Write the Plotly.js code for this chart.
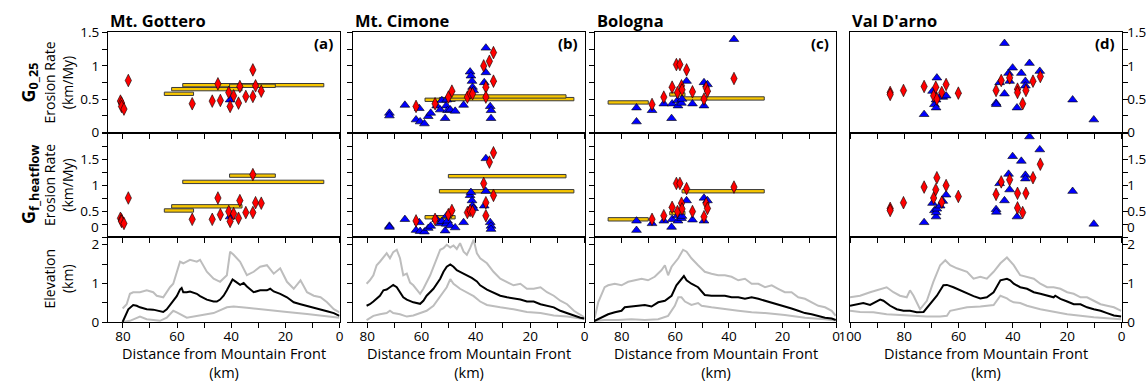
<!DOCTYPE html>
<html><head><meta charset="utf-8">
<script src="https://cdn.plot.ly/plotly-3.0.1.min.js"></script>
<style>html,body{margin:0;padding:0;background:#fff}#chart{width:1146px;height:383px}</style>
</head><body><div id="chart"></div>
<script>
// ---------------- DATA ----------------
const panelTitles = ['Mt. Gottero', 'Mt. Cimone', 'Bologna', "Val D'arno"];
const panelLetters = ['(a)', '(b)', '(c)', '(d)'];

// (a) Mt. Gottero
const gotteroDiaKm   = [80.9,80.5,80.5,79.6,78.0,54.4,47.0,44.9,44.0,40.9,40.4,39.1,37.3,36.8,34.6,32.0,32.0,31.0,28.9];
const gotteroDiaG025 = [0.47,0.44,0.39,0.35,0.78,0.43,0.47,0.73,0.48,0.60,0.39,0.55,0.44,0.69,0.54,0.54,0.94,0.70,0.62];
const gotteroDiaGhf  = [0.36,0.33,0.30,0.26,0.75,0.34,0.34,0.75,0.43,0.49,0.30,0.45,0.36,0.70,0.47,0.47,1.20,0.66,0.65];
const gotteroTriKm   = [40.4];
const gotteroTriG025 = [0.49];
const gotteroTriGhf  = [0.39];
const gotteroBarFrom = [64.7,62.0,57.9,40.6];
const gotteroBarTo   = [53.9,36.0,5.8,23.7];
const gotteroBarG025 = [0.58,0.65,0.71,0.70];
const gotteroBarGhf  = [0.51,0.59,1.06,1.18];
const gotteroMeanKm  = [80.1,79.3,78.0,76.2,74.9,73.7,71.2,68.8,66.3,65.1,63.8,62.6,61.4,60.1,58.9,58.3,57.7,56.4,55.2,54.0,52.7,51.5,49.0,46.5,45.3,44.1,42.8,41.6,40.4,39.5,38.5,36.7,35.4,34.2,31.7,29.3,26.8,25.6,24.3,21.9,19.4,16.9,14.4,12.0,9.5,7.0,4.6,2.1,0];
const gotteroMean    = [0.0,0.11,0.33,0.44,0.42,0.38,0.33,0.32,0.29,0.26,0.33,0.44,0.55,0.67,0.84,0.88,0.77,0.77,0.79,0.77,0.73,0.67,0.58,0.53,0.53,0.58,0.68,0.82,0.96,1.10,1.05,0.96,1.01,0.92,0.77,0.82,0.82,0.86,0.79,0.73,0.64,0.51,0.46,0.42,0.38,0.33,0.28,0.23,0.16];
const gotteroMaxKm   = [80.1,78.6,77.4,76.2,73.7,71.2,68.8,67.5,65.1,62.6,61.4,58.9,57.7,55.2,52.7,51.5,49.0,46.5,44.1,41.6,40.4,39.1,36.7,34.2,31.7,29.3,26.8,24.3,21.9,19.4,16.9,14.4,12.0,9.5,7.0,4.6,2.1,0];
const gotteroMax     = [0.35,0.46,0.73,0.77,0.77,0.82,0.77,0.68,0.64,0.90,0.99,1.56,1.52,1.61,1.56,1.61,1.30,1.12,1.04,1.21,1.82,1.74,1.56,1.21,1.30,1.43,1.47,1.25,1.39,1.04,0.86,1.08,0.77,0.68,0.64,0.51,0.33,0.25];
const gotteroMinKm   = [80.1,77.4,73.7,71.2,66.3,63.8,61.4,60.1,56.4,51.5,46.5,41.6,39.1,34.2,26.8,19.4,12.0,4.6,0];
const gotteroMin     = [0.0,0.03,0.14,0.07,0.03,0.11,0.29,0.25,0.11,0.16,0.23,0.38,0.40,0.37,0.31,0.26,0.21,0.16,0.11];

// (b) Mt. Cimone
const cimoneTriKm   = [71.8,71.8,66.1,62.0,60.8,60.5,58.9,57.5,56.6,54.4,53.1,52.5,51.3,50.9,50.7,50.4,49.4,47.6,44.5,42.1,41.8,41.4,41.2,40.8,36.9,36.3,36.3,34.7,34.4,34.4];
const cimoneTriG025 = [0.29,0.25,0.41,0.19,0.36,0.16,0.13,0.24,0.29,0.40,0.34,0.48,0.21,0.40,0.49,0.33,0.34,0.32,0.41,0.91,0.85,0.77,0.68,0.63,0.75,1.27,0.90,0.39,0.33,0.21];
const cimoneTriGhf  = [0.21,0.19,0.34,0.13,0.28,0.11,0.10,0.17,0.21,0.34,0.26,0.30,0.12,0.25,0.41,0.31,0.22,0.18,0.28,0.80,0.86,0.70,0.60,0.55,0.60,1.51,0.88,0.28,0.21,0.15];
const cimoneDiaKm   = [62.0,55.0,50.1,48.8,43.1,42.1,41.2,37.1,36.3,36.3,35.0,33.5,33.5];
const cimoneDiaG025 = [0.39,0.43,0.53,0.62,0.53,0.59,0.58,1.00,0.68,0.53,1.07,1.20,0.77];
const cimoneDiaGhf  = [0.31,0.34,0.43,0.51,0.47,0.51,0.49,1.03,0.66,0.41,1.44,1.62,0.80];
const cimoneBarFrom = [58.7,53.4,50.1];
const cimoneBarTo   = [47.6,3.9,6.8];
const cimoneBarG025 = [0.49,0.50,0.54];
const cimoneBarGhf  = [0.38,0.88,1.17];
const cimoneMeanKm  = [80.2,79.0,77.7,76.5,75.3,74.0,72.8,71.6,70.4,69.1,67.9,66.7,65.4,63.0,60.5,59.3,58.1,55.6,53.1,51.9,50.7,49.4,48.2,47.0,45.8,43.3,41.5,39.6,38.4,35.9,33.5,31.0,28.5,26.1,23.6,21.2,18.7,16.2,13.8,11.3,8.9,6.4,3.9,1.5,0];
const cimoneMean    = [0.42,0.46,0.53,0.60,0.68,0.82,0.84,0.90,0.96,0.90,0.77,0.64,0.58,0.51,0.47,0.55,0.68,0.86,1.12,1.30,1.43,1.49,1.43,1.34,1.30,1.21,1.14,1.05,0.95,0.84,0.77,0.68,0.64,0.61,0.58,0.53,0.53,0.46,0.42,0.38,0.29,0.23,0.16,0.11,0.09];
const cimoneMaxKm   = [80.2,79.0,77.7,76.5,75.3,74.0,72.8,71.6,70.4,69.1,67.9,66.7,65.4,64.2,63.0,60.5,59.3,56.8,54.4,53.1,51.9,50.7,49.4,48.2,47.0,45.8,44.5,43.3,42.1,40.8,39.6,38.4,35.9,33.5,31.0,28.5,26.1,23.6,21.2,18.7,16.2,13.8,11.3,8.9,6.4,3.9,1.5,0];
const cimoneMax     = [0.99,1.08,1.21,1.47,1.56,1.69,1.78,1.65,1.81,1.87,1.65,1.21,1.25,1.02,0.95,0.73,0.86,1.21,1.65,1.87,1.91,2.00,1.93,1.98,1.89,2.04,1.82,1.74,1.91,2.13,1.78,1.65,1.52,1.30,1.12,1.04,0.95,0.99,0.86,0.86,0.90,0.77,0.68,0.55,0.46,0.29,0.18,0.12];
const cimoneMinKm   = [80.2,77.7,75.3,72.8,71.6,70.4,67.9,65.4,63.0,60.5,58.1,55.6,53.1,50.7,49.4,48.2,45.8,43.3,40.8,38.4,35.9,31.0,26.1,21.2,16.2,11.3,6.4,1.5,0];
const cimoneMin     = [0.05,0.16,0.20,0.23,0.29,0.23,0.20,0.14,0.17,0.23,0.29,0.42,0.68,0.90,1.11,0.99,0.86,0.77,0.67,0.53,0.44,0.38,0.33,0.26,0.23,0.17,0.14,0.09,0.07];

// (c) Bologna
const bolognaTriKm   = [74.5,74.5,68.7,64.3,61.4,61.2,59.2,59.0,57.7,57.5,55.8,53.6,49.3,49.3,48.0,38.1];
const bolognaTriG025 = [0.37,0.16,0.33,0.43,0.21,0.43,0.48,0.40,0.44,0.50,0.77,0.43,0.75,0.40,0.72,1.40];
const bolognaTriGhf  = [0.31,0.13,0.26,0.31,0.19,0.34,0.41,0.31,0.36,0.40,0.70,0.33,0.75,0.31,0.70,2.40];
const bolognaDiaKm   = [68.7,64.3,61.2,59.6,58.3,59.2,57.7,57.5,55.8,53.6,49.3,48.5,48.0,38.1];
const bolognaDiaG025 = [0.42,0.53,0.68,1.02,1.02,0.60,0.70,0.64,0.94,0.61,0.50,0.67,0.62,0.81];
const bolognaDiaGhf  = [0.34,0.41,0.57,1.03,1.03,0.49,0.65,0.54,0.93,0.49,0.39,0.64,0.55,0.96];
const bolognaBarFrom = [85.1,62.1,57.5];
const bolognaBarTo   = [70.1,56.4,26.8];
const bolognaBarG025 = [0.45,0.57,0.51];
const bolognaBarGhf  = [0.34,0.46,0.88];
const bolognaMeanKm  = [90.1,87.6,85.1,82.6,80.1,78.9,76.4,73.9,71.4,68.9,66.4,63.9,61.4,59.6,57.7,56.8,55.8,54.0,51.5,49.0,46.5,44.0,41.5,39.0,36.5,34.0,31.5,29.0,26.5,24.0,21.6,19.1,16.6,14.1,11.6,9.1,6.6,4.1,1.6,0.1];
const bolognaMean    = [0.03,0.11,0.20,0.25,0.29,0.38,0.40,0.42,0.44,0.40,0.51,0.55,0.68,0.95,1.12,1.19,1.08,0.99,0.90,0.70,0.68,0.68,0.68,0.64,0.64,0.60,0.64,0.60,0.55,0.51,0.46,0.42,0.35,0.29,0.23,0.20,0.16,0.11,0.09,0.05];
const bolognaMaxKm   = [90.1,88.8,86.4,85.1,82.6,80.1,77.6,75.1,72.6,70.2,67.7,65.2,63.9,62.7,61.4,58.9,57.1,55.8,54.0,51.5,49.0,46.5,44.0,41.5,39.0,36.5,34.0,31.5,29.0,26.5,24.0,21.6,19.1,16.6,14.1,11.6,9.1,6.6,4.1,1.6,0.1];
const bolognaMax     = [0.11,0.51,0.90,0.95,0.99,0.95,1.04,1.08,1.12,1.08,1.17,1.34,1.47,1.21,1.43,1.65,1.87,1.82,1.65,1.47,1.30,1.25,1.21,1.21,1.17,1.08,1.12,0.99,0.99,0.90,0.95,0.86,0.77,0.77,0.64,0.60,0.51,0.42,0.38,0.29,0.16];
const bolognaMinKm   = [90.1,86.4,81.4,76.4,71.4,66.4,62.7,60.2,58.9,57.7,56.4,54.0,51.5,50.2,46.5,41.5,36.5,31.5,26.5,19.1,11.6,4.1,0.1];
const bolognaMin     = [0.03,0.05,0.05,0.07,0.05,0.07,0.16,0.42,0.64,0.64,0.53,0.44,0.49,0.42,0.38,0.33,0.29,0.25,0.23,0.18,0.11,0.07,0.04];

// (d) Val D'arno
const arnoDiaKm   = [85.2,85.2,80.3,72.7,69.2,68.4,68.0,66.2,64.6,60.1,46.2,44.3,41.2,38.3,38.3,36.4,35.2,32.6,29.9];
const arnoDiaG025 = [0.60,0.57,0.63,0.69,0.55,0.68,0.50,0.60,0.72,0.59,0.63,0.78,0.82,0.65,0.60,0.43,0.63,0.77,0.84];
const arnoDiaGhf  = [0.55,0.51,0.66,0.96,0.75,0.91,1.14,0.67,0.99,0.78,0.82,1.06,1.10,0.84,0.56,0.47,0.84,1.14,1.40];
const arnoTriKm   = [72.7,69.6,68.9,68.3,68.3,68.0,66.8,65.8,64.6,46.2,46.1,44.9,43.1,43.1,41.6,41.2,40.1,38.5,36.9,35.4,35.4,33.9,30.1,18.0,10.2];
const arnoTriG025 = [0.27,0.62,0.42,0.49,0.37,0.82,0.54,0.53,0.55,0.44,0.42,0.75,1.34,0.58,0.89,0.77,0.97,0.37,0.89,0.77,0.70,1.04,0.92,0.49,0.19];
const arnoTriGhf  = [0.28,0.65,0.51,0.39,0.47,0.54,0.60,0.69,0.81,0.53,0.48,1.03,2.30,0.70,1.21,0.91,1.55,0.39,1.46,1.19,1.12,1.93,1.68,0.88,0.25];
const arnoBarFrom = [], arnoBarTo = [], arnoBarG025 = [], arnoBarGhf = [];
const arnoMeanKm  = [100.0,97.5,95.1,92.6,90.2,88.9,87.7,85.2,82.8,80.3,77.9,75.4,72.9,70.5,68.0,65.6,64.3,61.9,59.4,56.9,54.5,52.0,49.6,47.1,44.6,42.2,41.0,39.7,37.3,34.8,32.3,29.9,27.4,25.0,24.4,22.5,20.0,17.6,15.1,12.7,10.2,7.7,5.3,2.8,0.1];
const arnoMean    = [0.42,0.46,0.49,0.44,0.53,0.58,0.55,0.42,0.33,0.29,0.29,0.25,0.26,0.46,0.68,0.95,0.96,0.90,0.82,0.73,0.67,0.61,0.64,0.77,1.08,1.12,1.08,0.99,0.90,0.86,0.77,0.73,0.68,0.64,0.68,0.60,0.53,0.46,0.46,0.38,0.33,0.29,0.23,0.17,0.14];
const arnoMaxKm   = [100.0,96.3,92.6,88.9,86.5,84.0,81.6,79.1,77.9,76.6,74.2,71.7,69.3,66.8,64.9,63.1,60.6,56.9,54.5,52.0,49.6,47.1,44.6,42.2,39.7,37.3,34.8,32.3,29.9,27.4,25.0,22.5,20.0,17.6,15.1,12.7,10.2,7.7,5.3,2.8,0.1];
const arnoMax     = [0.64,0.68,0.77,0.84,0.90,0.77,0.68,0.64,0.82,0.68,0.33,0.55,1.04,1.47,1.60,1.47,1.39,1.30,1.12,1.17,1.12,1.30,1.52,1.67,1.47,1.21,1.17,1.12,0.99,0.90,0.90,0.86,0.77,0.73,0.64,0.64,0.55,0.46,0.42,0.38,0.29];
const arnoMinKm   = [100.0,96.3,91.4,86.5,81.6,76.6,71.7,66.8,64.3,63.1,60.6,56.9,52.0,47.1,44.6,42.2,41.0,39.7,37.3,34.8,29.9,25.0,20.0,15.1,10.2,5.3,0.1];
const arnoMin     = [0.29,0.26,0.25,0.20,0.18,0.16,0.14,0.14,0.16,0.29,0.33,0.38,0.40,0.44,0.68,0.61,0.55,0.51,0.49,0.42,0.33,0.26,0.20,0.16,0.12,0.10,0.07];

// ---------------- BUILD ----------------
const panels = [
  {dKm:gotteroDiaKm,dA:gotteroDiaG025,dB:gotteroDiaGhf,tKm:gotteroTriKm,tA:gotteroTriG025,tB:gotteroTriGhf,bF:gotteroBarFrom,bT:gotteroBarTo,bA:gotteroBarG025,bB:gotteroBarGhf,
   mK:gotteroMeanKm,m:gotteroMean,xK:gotteroMaxKm,x:gotteroMax,nK:gotteroMinKm,n:gotteroMin},
  {dKm:cimoneDiaKm,dA:cimoneDiaG025,dB:cimoneDiaGhf,tKm:cimoneTriKm,tA:cimoneTriG025,tB:cimoneTriGhf,bF:cimoneBarFrom,bT:cimoneBarTo,bA:cimoneBarG025,bB:cimoneBarGhf,
   mK:cimoneMeanKm,m:cimoneMean,xK:cimoneMaxKm,x:cimoneMax,nK:cimoneMinKm,n:cimoneMin},
  {dKm:bolognaDiaKm,dA:bolognaDiaG025,dB:bolognaDiaGhf,tKm:bolognaTriKm,tA:bolognaTriG025,tB:bolognaTriGhf,bF:bolognaBarFrom,bT:bolognaBarTo,bA:bolognaBarG025,bB:bolognaBarGhf,
   mK:bolognaMeanKm,m:bolognaMean,xK:bolognaMaxKm,x:bolognaMax,nK:bolognaMinKm,n:bolognaMin},
  {dKm:arnoDiaKm,dA:arnoDiaG025,dB:arnoDiaGhf,tKm:arnoTriKm,tA:arnoTriG025,tB:arnoTriGhf,bF:arnoBarFrom,bT:arnoBarTo,bA:arnoBarG025,bB:arnoBarGhf,
   mK:arnoMeanKm,m:arnoMean,xK:arnoMaxKm,x:arnoMax,nK:arnoMinKm,n:arnoMin}
];

const W = 1146, H = 383;
const FONT = '"Open Sans", "Noto Sans", sans-serif';
const colPx = [[108,339.5],[353,584.5],[595,836],[850,1121.5]];
const colDom = colPx.map(d => [d[0]/W, d[1]/W]);
const colRange = [[85.5,0],[85.2,0],[90,0],[100,0]];
const colMaxTick = [80,80,80,100];
const rowPx = [[32,133],[133,237],[237,322]];
const rowDom = rowPx.map(d => [1-d[1]/H, 1-d[0]/H]);
const rowRange = [[-0.01,1.51],[0,2.0],[0,2.2]];
const rowTicks = [[0,0.25,0.5,0.75,1,1.25,1.5],[0,0.25,0.5,0.75,1,1.25,1.5,1.75,2],[0,0.5,1,1.5,2]];
function yText(r, v){
  if (r===0) return [0,0.5,1,1.5].includes(v) ? String(v) : ' ';
  if (r===1) return [0.5,1,1.5].includes(v) ? String(v) : ' ';
  return [0,1,2].includes(v) ? String(v) : ' ';
}
const sfx = i => i===1 ? '' : String(i);

const traces = [];
const layout = {
  width: W, height: H, margin: {l:0,r:0,t:0,b:0},
  paper_bgcolor: '#fff', plot_bgcolor: '#fff', showlegend: false,
  font: {family: FONT, color: '#000'}, annotations: []
};

const diaStyle = {symbol:'diamond-tall', size:9, color:'#FF0000', line:{color:'#000', width:0.6}};
const triStyle = {symbol:'triangle-up', size:8.5, color:'#0000FF', line:{color:'#000', width:0.6}};

for (let c=0; c<4; c++){
  const p = panels[c];
  for (let r=0; r<3; r++){
    const i = r*4 + c + 1;
    const xa = 'x'+sfx(i), ya = 'y'+sfx(i);
    if (r < 2){
      const bv = r===0 ? p.bA : p.bB;
      if (p.bF.length){
        traces.push({type:'bar', orientation:'h', base:p.bT, x:p.bF.map((f,k)=>f-p.bT[k]), y:bv,
          width: r===0 ? 0.05 : 0.065, marker:{color:'#F7C600', line:{color:'#3a3a3a', width:1}},
          xaxis:xa, yaxis:ya, hoverinfo:'skip'});
      }
      traces.push({type:'scatter', mode:'markers', x:p.tKm, y: r===0 ? p.tA : p.tB, marker:triStyle, xaxis:xa, yaxis:ya});
      traces.push({type:'scatter', mode:'markers', x:p.dKm, y: r===0 ? p.dA : p.dB, marker:diaStyle, xaxis:xa, yaxis:ya});
    } else {
      traces.push({type:'scatter', mode:'lines', x:p.xK, y:p.x, line:{color:'#BDBDBD', width:2}, xaxis:xa, yaxis:ya});
      traces.push({type:'scatter', mode:'lines', x:p.nK, y:p.n, line:{color:'#BDBDBD', width:2}, xaxis:xa, yaxis:ya});
      traces.push({type:'scatter', mode:'lines', x:p.mK, y:p.m, line:{color:'#000', width:2}, xaxis:xa, yaxis:ya});
    }

    const xt = []; for (let v=0; v<=colMaxTick[c]; v+=10) xt.push(v);
    const xtt = xt.map(v => v%20===0 ? String(v) : ' ');
    const yt = rowTicks[r], ytt = yt.map(v => yText(r, v));
    const common = {showgrid:false, zeroline:false, fixedrange:true, type:'linear', tickcolor:'#000', ticklen:5, tickwidth:1,
      tickfont:{family:FONT, size:13.5, color:'#000'}};
    layout['xaxis'+sfx(i)] = Object.assign({}, common, {domain:colDom[c], range:colRange[c], anchor:ya,
      showline:true, linecolor:'#000', linewidth:1, mirror:true, ticks:'outside', ticklabelstandoff:-3,
      tickmode:'array', tickvals:xt, ticktext:xtt, showticklabels: r===2});
    layout['yaxis'+sfx(i)] = Object.assign({}, common, {domain:rowDom[r], range:rowRange[r], anchor:xa,
      side: c===3 ? 'right' : 'left', ticklabelstandoff: c===3 ? -3 : 0,
      showline:true, linecolor:'#000', linewidth:1, mirror:true, ticks:'outside',
      tickmode:'array', tickvals:yt, ticktext:ytt, showticklabels: (c===0 || c===3)});
    // mirror ticks pointing the same way (inside the box)
    const j = i + 12;
    layout['xaxis'+j] = Object.assign({}, common, {overlaying:xa, anchor:ya, side:'top', range:colRange[c],
      showline:false, ticks:'inside', tickmode:'array', tickvals:xt, showticklabels:false});
    layout['yaxis'+j] = Object.assign({}, common, {overlaying:ya, anchor:xa, side: c===3 ? 'left' : 'right', range:rowRange[r],
      showline:false, ticks:'inside', tickmode:'array', tickvals:yt, showticklabels:false});
  }
}

const A = layout.annotations;
const txt = (o) => A.push(Object.assign({showarrow:false, xref:'paper', yref:'paper', font:{family:FONT, size:13.5, color:'#000'}}, o));
for (let c=0; c<4; c++){
  txt({x:colDom[c][0], y:1-20/H, xanchor:'left', yanchor:'middle', text:'<b>'+panelTitles[c]+'</b>', font:{family:FONT, size:16.5, color:'#000'}});
  txt({xref:'x'+sfx(c+1)+' domain', yref:'y'+sfx(c+1)+' domain', x:1, y:1, xshift:-5, yshift:-11, xanchor:'right', yanchor:'middle',
       text:'<b>'+panelLetters[c]+'</b>', font:{family:FONT, size:15, color:'#000'}});
  const cx = (colDom[c][0]+colDom[c][1])/2;
  txt({x:cx, y:0, xanchor:'center', yanchor:'bottom', borderpad:0, text:'Distance from Mountain Front<br>(km)', font:{family:FONT, size:14.5, color:'#000'}});
}
const rowMid = rowPx.map(d => 1-(d[0]+d[1])/2/H);
txt({x:29/W, y:rowMid[0], xanchor:'center', yanchor:'middle', textangle:-90, text:'<b>G<sub>0_25</sub></b>', font:{family:FONT, size:18, color:'#000'}});
txt({x:29/W, y:rowMid[1], xanchor:'center', yanchor:'middle', textangle:-90, text:'<b>G<sub>f_heatflow</sub></b>', font:{family:FONT, size:18, color:'#000'}});
txt({x:58/W, y:rowMid[0], xanchor:'center', yanchor:'middle', textangle:-90, text:'Erosion Rate<br>(km/My)', font:{family:FONT, size:14, color:'#000'}});
txt({x:58/W, y:rowMid[1], xanchor:'center', yanchor:'middle', textangle:-90, text:'Erosion Rate<br>(km/My)', font:{family:FONT, size:14, color:'#000'}});
txt({x:58/W, y:rowMid[2], xanchor:'center', yanchor:'middle', textangle:-90, text:'Elevation<br>(km)', font:{family:FONT, size:14, color:'#000'}});
// zero labels of the middle row, lifted clear of the row below
txt({x:101/W, y:1-227/H, xanchor:'right', yanchor:'middle', text:'0'});
txt({x:1125/W, y:1-227/H, xanchor:'left', yanchor:'middle', text:'0'});

Plotly.newPlot('chart', traces, layout, {displayModeBar:false, staticPlot:true});
</script></body></html>
